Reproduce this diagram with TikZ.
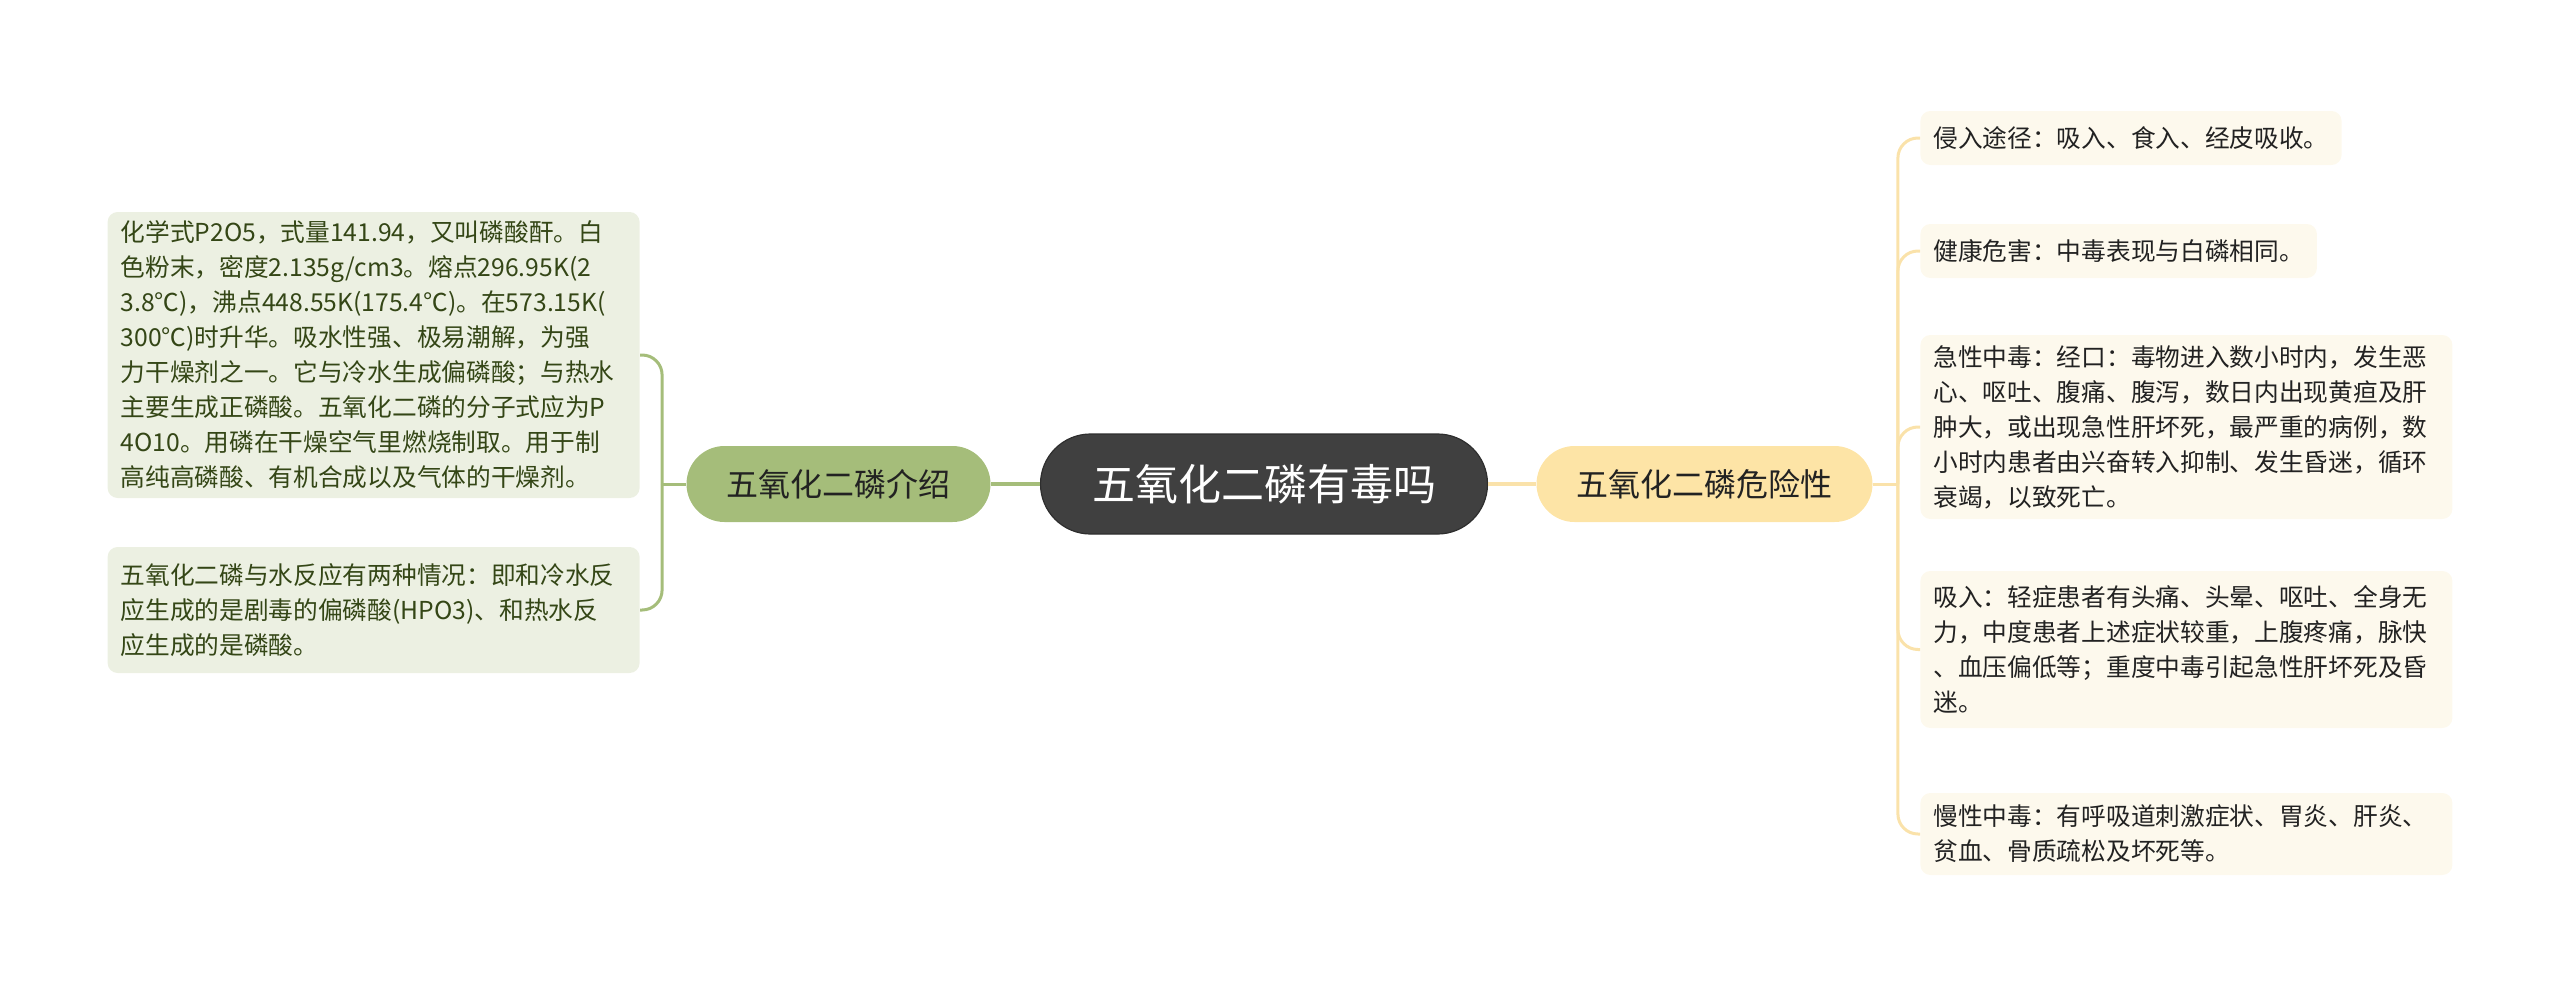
\documentclass[tikz,border=0pt]{standalone}
\usepackage{fontspec}
\setmainfont{Noto Sans CJK SC}
\usepackage{tikz}
\usetikzlibrary{positioning}
\definecolor{rootgray}{RGB}{64,64,64}
\definecolor{rootedge}{RGB}{46,46,46}
\definecolor{introgreen}{RGB}{165,189,122}
\definecolor{introleaf}{RGB}{236,240,226}
\definecolor{introtext}{RGB}{52,70,22}
\definecolor{riskyellow}{RGB}{253,228,166}
\definecolor{riskline}{RGB}{250,226,170}
\definecolor{riskleaf}{RGB}{253,249,237}
\definecolor{inktext}{RGB}{34,34,34}

\begin{document}
\begin{tikzpicture}[
        x=0.5pt, y=-0.5pt,
        root/.style={rectangle, rounded corners=25pt, draw=rootedge, line width=0.6pt, fill=rootgray, text=white, minimum width=223.5pt, minimum height=50pt, font=\fontsize{21.5pt}{26pt}\selectfont},
        branch/.style={rectangle, rounded corners=19pt, fill=#1, text=inktext, minimum height=38pt, font=\fontsize{16pt}{20pt}\selectfont},
        leaf/.style={rectangle, rounded corners=5pt, fill=#1, inner xsep=6.5pt, inner ysep=4pt, align=left, font=\fontsize{12.35pt}{17.5pt}\selectfont},
        link/.style={draw=#1, line width=2pt},
        twig/.style={draw=#1, line width=1.5pt, rounded corners=10pt}
    ]
        \useasboundingbox (0,0) rectangle (2560,985);

        \node[root] (top) at (1264,484) {五氧化二磷有毒吗};
        \node[branch=introgreen, left=24.5pt of top, minimum width=152pt] (intro) {五氧化二磷介绍};
        \node[branch=riskyellow, right=24pt of top, minimum width=168pt] (risk) {五氧化二磷危险性};

        % left side
        \node[leaf=introleaf, text=introtext, text width=253pt, minimum height=143pt, anchor=east] (formula) at (640,355) {化学式P2O5，式量141.94，又叫磷酸酐。白\\色粉末，密度2.135g/cm3。熔点296.95K(2\\3.8℃)，沸点448.55K(175.4℃)。在573.15K(\\300℃)时升华。吸水性强、极易潮解，为强\\力干燥剂之一。它与冷水生成偏磷酸；与热水\\主要生成正磷酸。五氧化二磷的分子式应为P\\4O10。用磷在干燥空气里燃烧制取。用于制\\高纯高磷酸、有机合成以及气体的干燥剂。};
        \node[leaf=introleaf, text=introtext, text width=253pt, minimum height=63pt, anchor=east] (water) at (640,610) {五氧化二磷与水反应有两种情况：即和冷水反\\应生成的是剧毒的偏磷酸(HPO3)、和热水反\\应生成的是磷酸。};

        % right side
        \node[leaf=riskleaf, text=inktext, minimum height=27pt, anchor=west] (route) at (1920,138) {侵入途径：吸入、食入、经皮吸收。};
        \node[leaf=riskleaf, text=inktext, minimum height=27pt, anchor=west] (harm) at (1920,251) {健康危害：中毒表现与白磷相同。};
        \node[leaf=riskleaf, text=inktext, text width=253pt, minimum height=92pt, anchor=west] (acute) at (1920,427) {急性中毒：经口：毒物进入数小时内，发生恶\\心、呕吐、腹痛、腹泻，数日内出现黄疸及肝\\肿大，或出现急性肝坏死，最严重的病例，数\\小时内患者由兴奋转入抑制、发生昏迷，循环\\衰竭，以致死亡。};
        \node[leaf=riskleaf, text=inktext, text width=253pt, minimum height=78.5pt, anchor=west] (inhale) at (1920,649.5) {吸入：轻症患者有头痛、头晕、呕吐、全身无\\力，中度患者上述症状较重，上腹疼痛，脉快\\、血压偏低等；重度中毒引起急性肝坏死及昏\\迷。};
        \node[leaf=riskleaf, text=inktext, text width=253pt, minimum height=41pt, anchor=west] (chronic) at (1920,834) {慢性中毒：有呼吸道刺激症状、胃炎、肝炎、\\贫血、骨质疏松及坏死等。};

        \draw[link=introgreen] (top) -- (intro);
        \draw[link=riskline] (top) -- (risk);

        \draw[twig=introgreen] (intro.west) -- ++(-24,0) coordinate (introfork);
        \draw[twig=introgreen] (introfork) |- (formula.east);
        \draw[twig=introgreen] (introfork) |- (water.east);

        \draw[twig=riskline] (risk.east) -- ++(25,0) coordinate (riskfork);
        \foreach \n in {route,harm,acute,inhale,chronic}
            \draw[twig=riskline] (riskfork) |- (\n.west);
    \end{tikzpicture}
\end{document}
